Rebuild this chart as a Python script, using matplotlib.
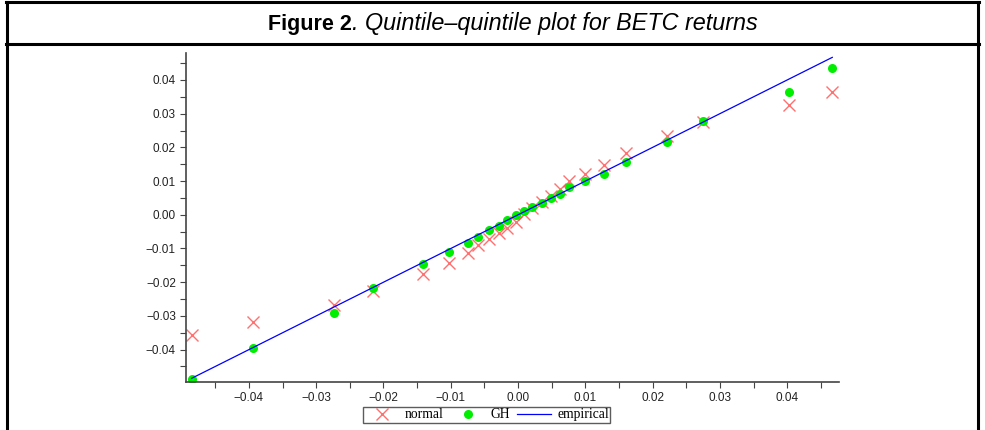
import numpy as np
import matplotlib
matplotlib.use("Agg")
import matplotlib.pyplot as plt
from matplotlib.lines import Line2D
from matplotlib.ticker import MultipleLocator, FuncFormatter

# Empirical quantiles of BETC returns (x) and fitted quantiles
empirical = [-0.0485, -0.0394, -0.0274, -0.0215, -0.0141, -0.0103, -0.0074, -0.0059,
             -0.0043, -0.0029, -0.0016, -0.0003, 0.0009, 0.0021, 0.0036, 0.0049,
             0.0062, 0.0076, 0.0100, 0.0128, 0.0161, 0.0221, 0.0275, 0.0402, 0.0467]
gh = [-0.0487, -0.0395, -0.0291, -0.0216, -0.0146, -0.0111, -0.0085, -0.0065,
      -0.0046, -0.0032, -0.0015, -0.0002, 0.0011, 0.0024, 0.0036, 0.0049,
      0.0063, 0.0082, 0.0100, 0.0122, 0.0156, 0.0216, 0.0279, 0.0365, 0.0435]
normal = [-0.0356, -0.0318, -0.0267, -0.0225, -0.0175, -0.0143, -0.0113, -0.0091,
          -0.0071, -0.0055, -0.0038, -0.0020, 0.0001, 0.0021, 0.0039, 0.0057,
          0.0077, 0.0100, 0.0122, 0.0147, 0.0182, 0.0233, 0.0276, 0.0325, 0.0365]

fig = plt.figure(figsize=(9.85, 4.30), dpi=100)
ax = fig.add_axes([0.1885, 0.1109, 0.6633, 0.7651])

ax.plot(empirical, normal, linestyle="none", marker="x", color="#ff4040", alpha=0.75,
        markersize=9, markeredgewidth=1.0, label="normal")
ax.plot(empirical, gh, linestyle="none", marker="o", color="#00ee00",
        markersize=6.5, markeredgewidth=0, label="GH")
ax.plot(empirical, empirical, color="#0000ff", linewidth=0.9, label="empirical")

ax.set_xlim(-0.0494, 0.0477)
ax.set_ylim(-0.0497, 0.0479)

for s in ["top", "right"]:
    ax.spines[s].set_visible(False)
for s in ["left", "bottom"]:
    ax.spines[s].set_color("#444444")
    ax.spines[s].set_linewidth(1.2)


def fmt(v, pos):
    v = round(v, 4)
    if abs(v) < 1e-9:
        return "0.00"
    s = "%.2f" % abs(v)
    return ("\u2212" + s) if v < 0 else s


ax.xaxis.set_major_locator(MultipleLocator(0.01))
ax.xaxis.set_minor_locator(MultipleLocator(0.005))
ax.yaxis.set_major_locator(MultipleLocator(0.01))
ax.yaxis.set_minor_locator(MultipleLocator(0.005))
ax.xaxis.set_major_formatter(FuncFormatter(fmt))
ax.yaxis.set_major_formatter(FuncFormatter(fmt))
ax.tick_params(which="both", direction="out", length=4, width=0.8, color="#444444",
               labelsize=8.5, labelcolor="#222222", pad=3)
for lab in ax.get_xticklabels() + ax.get_yticklabels():
    lab.set_fontfamily("Liberation Sans")

leg = ax.legend(loc="upper center", bbox_to_anchor=(0.461, -0.075), ncol=3,
                frameon=True, fancybox=False, edgecolor="#333333", borderpad=0.1,
                borderaxespad=0, handlelength=2.5, columnspacing=0.5,
                handletextpad=0.45, prop={"family": "Liberation Serif", "size": 9.8})
leg.get_frame().set_linewidth(1.0)

# Outer frame and title strip
def hline(y, x0=6 / 985, x1=979 / 985, lw=2.2):
    fig.add_artist(Line2D([x0, x1], [y, y], transform=fig.transFigure, color="black", lw=lw))

hline(1 - 2 / 430)
hline(1 - 44 / 430)
fig.add_artist(Line2D([7 / 985, 7 / 985], [0, 1 - 2 / 430], transform=fig.transFigure, color="black", lw=2.2))
fig.add_artist(Line2D([978 / 985, 978 / 985], [0, 1 - 2 / 430], transform=fig.transFigure, color="black", lw=2.2))

# Title: bold part followed by italic part, sharing one baseline
ty = 1 - 30 / 430
t1 = fig.text(0, ty, "Figure 2", fontsize=15.5, fontweight="bold",
              family="Liberation Sans", va="baseline", ha="left")
t2 = fig.text(0, ty, ". Quintile\u2013quintile plot for BETC returns",
              fontsize=16.8, fontstyle="italic", family="Liberation Sans", va="baseline", ha="left")
fig.canvas.draw()
r = fig.canvas.get_renderer()
w1 = t1.get_window_extent(r).width
x0 = 268
t1.set_x(x0 / 985)
t2.set_x((x0 + w1) / 985)

fig.savefig("out.png", dpi=100)
